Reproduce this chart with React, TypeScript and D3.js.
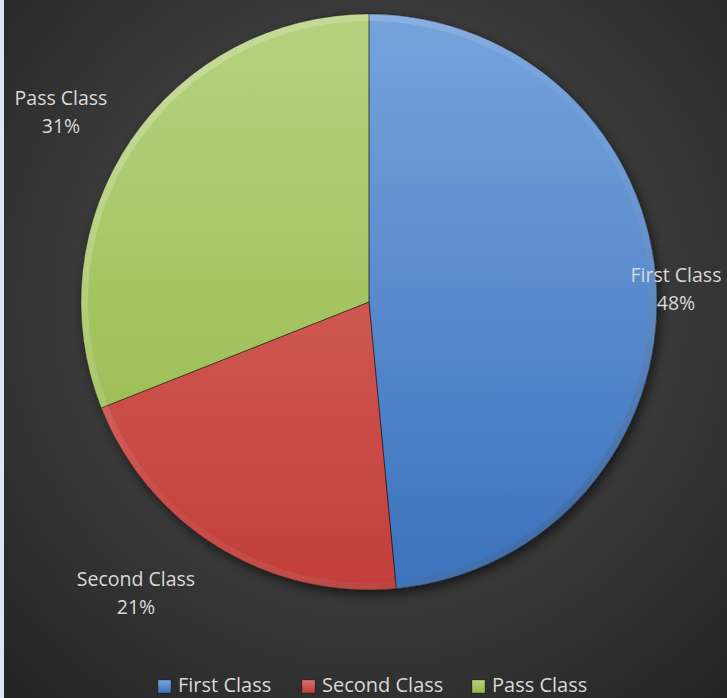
import React from "react";
import * as d3 from "d3";

const categories = ["First Class", "Second Class", "Pass Class"];
const values = [48.49, 20.51, 31.0];
const topColors = ["#76a3dc", "#dc706c", "#b6d27f"];
const bottomColors = ["#3a72bd", "#c23e39", "#93b745"];

const W = 727;
const H = 698;
const cx = 369;
const cy = 302;
const R = 288;

export default function App() {
  const total = d3.sum(values);
  const pie = d3.pie<number>().sort(null).value((d) => d)(values);
  const arc = d3.arc<d3.PieArcDatum<number>>().innerRadius(0).outerRadius(R);
  const rim = d3.arc().innerRadius(R - 7).outerRadius(R).startAngle(0).endAngle(2 * Math.PI);

  const labelPos = [
    { x: 676, y: 282 },
    { x: 136, y: 586 },
    { x: 61, y: 105 },
  ];
  const legendX = [158, 302, 472];
  const font = "'Open Sans', 'Noto Sans', sans-serif";

  return (
    <svg
      width={W}
      height={H}
      style={{ position: "absolute", left: 0, top: 0, display: "block" }}
    >
      <defs>
        <radialGradient id="bg" cx="370" cy="300" r="520" gradientUnits="userSpaceOnUse">
          <stop offset="0" stopColor="#4b4b4b" />
          <stop offset="0.55" stopColor="#3a3a3a" />
          <stop offset="1" stopColor="#252525" />
        </radialGradient>
        {categories.map((c, i) => (
          <linearGradient
            key={c}
            id={`g${i}`}
            x1="0"
            y1={-R}
            x2="0"
            y2={R}
            gradientUnits="userSpaceOnUse"
          >
            <stop offset="0" stopColor={topColors[i]} />
            <stop offset="1" stopColor={bottomColors[i]} />
          </linearGradient>
        ))}
        <linearGradient id="rimg" x1="0" y1="0" x2="1" y2="1">
          <stop offset="0" stopColor="#ffffff" stopOpacity="0.3" />
          <stop offset="0.5" stopColor="#ffffff" stopOpacity="0.03" />
          <stop offset="1" stopColor="#000000" stopOpacity="0.3" />
        </linearGradient>
        <filter id="shadow" x="-20%" y="-20%" width="140%" height="140%">
          <feDropShadow dx="3" dy="5" stdDeviation="6" floodColor="#000" floodOpacity="0.6" />
        </filter>
        {categories.map((c, i) => (
          <linearGradient key={c} id={`lg${i}`} x1="0" y1="0" x2="0" y2="1">
            <stop offset="0" stopColor={topColors[i]} />
            <stop offset="1" stopColor={bottomColors[i]} />
          </linearGradient>
        ))}
      </defs>
      <rect x={0} y={0} width={W} height={H} fill="url(#bg)" />
      <rect x={0} y={0} width={4} height={H} fill="#dde6f0" />

      <g transform={`translate(${cx},${cy})`}>
        <g filter="url(#shadow)">
          {pie.map((d, i) => (
            <path key={i} d={arc(d) || ""} fill={`url(#g${i})`} />
          ))}
        </g>
        {pie.map((d, i) => (
          <path
            key={`s${i}`}
            d={arc(d) || ""}
            fill="none"
            stroke="rgba(0,0,0,0.35)"
            strokeWidth={1}
            strokeLinejoin="round"
          />
        ))}
        <path d={(rim as any)() || ""} fill="url(#rimg)" />
      </g>

      {pie.map((d, i) => (
        <text
          key={`l${i}`}
          x={labelPos[i].x}
          y={labelPos[i].y}
          textAnchor="middle"
          fill="#d9d9d9"
          fontFamily={font}
          fontSize={19.5}
        >
          <tspan x={labelPos[i].x}>{categories[i]}</tspan>
          <tspan x={labelPos[i].x} dy={28}>
            {`${Math.round((d.data / total) * 100)}%`}
          </tspan>
        </text>
      ))}

      {categories.map((c, i) => (
        <g key={`lg${i}`}>
          <rect
            x={legendX[i]}
            y={680}
            width={13}
            height={13}
            fill={`url(#lg${i})`}
            stroke="rgba(0,0,0,0.35)"
            strokeWidth={0.8}
          />
          <text
            x={legendX[i] + 20}
            y={692}
            fill="#d9d9d9"
            fontFamily={font}
            fontSize={20}
          >
            {c}
          </text>
        </g>
      ))}
    </svg>
  );
}
